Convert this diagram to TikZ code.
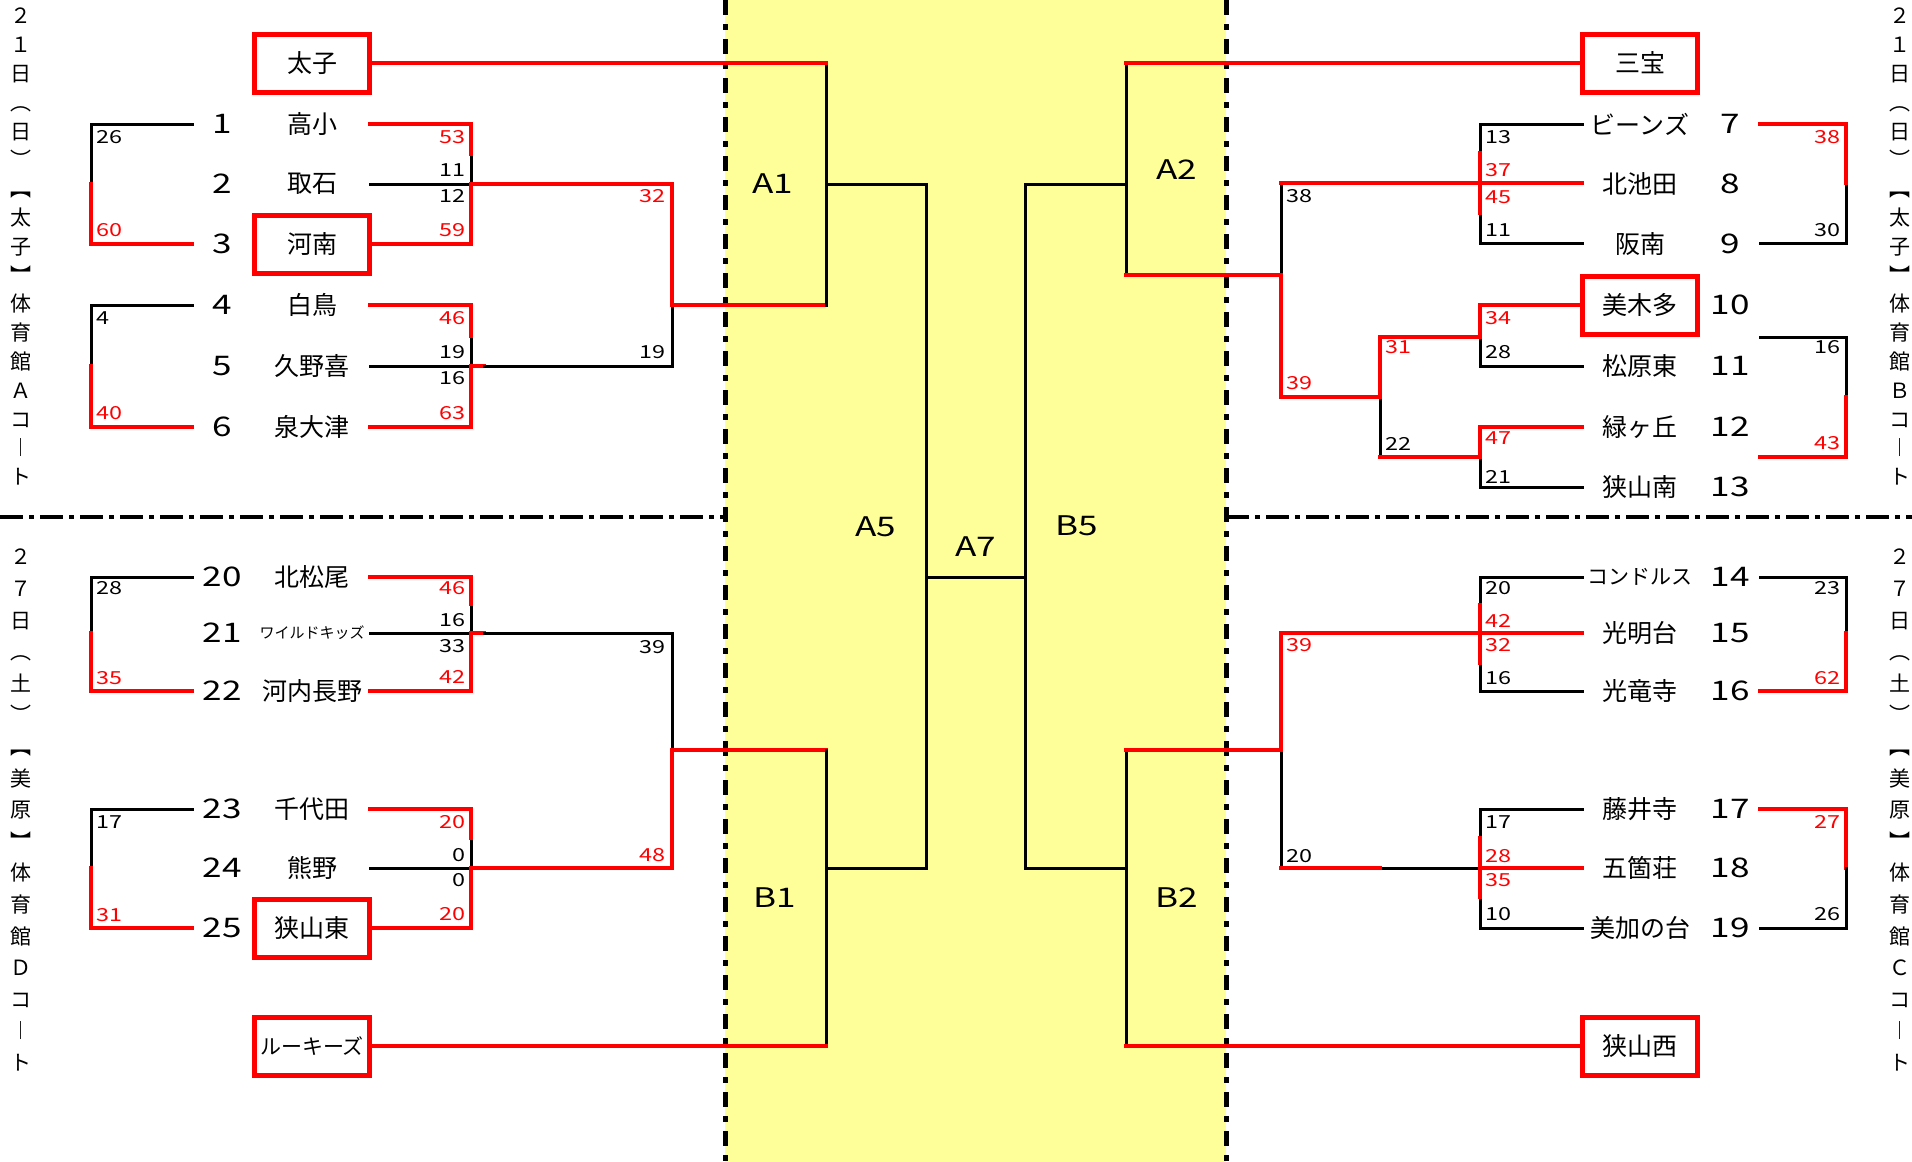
\documentclass[tikz,border=0pt]{standalone}
\usepackage{fontspec}
\setmainfont{Noto Sans CJK JP}
\newfontfamily\widefont[FakeStretch=1.3]{Noto Sans CJK JP}
\definecolor{band}{RGB}{255,255,153}
\begin{document}
\begin{tikzpicture}[x=1pt,y=-1pt,
	bl/.style={line width=3pt,line cap=rect},
	rl/.style={line width=4.5pt,red,line cap=rect},
	dd/.style={line width=4.5pt,dash pattern=on 23pt off 6pt on 5pt off 6pt},
	ddv/.style={line width=5pt,dash pattern=on 15pt off 9pt on 6pt off 9pt},
	team/.style={font=\fontsize{25}{25}\selectfont,inner sep=0pt},
	kana/.style={font=\fontsize{21}{21}\selectfont,inner sep=0pt},
	num/.style={font=\widefont\fontsize{27}{27}\selectfont,inner sep=0pt},
	sc/.style={font=\widefont\fontsize{18}{18}\selectfont,inner sep=0pt},
	lbl/.style={font=\widefont\fontsize{27}{27}\selectfont,inner sep=0pt},
	winbox/.style={draw=red,line width=5pt,minimum width=115pt,minimum height=58pt,inner sep=0pt,font=\fontsize{25}{25}\selectfont},
	vt/.style={align=center,anchor=north,inner sep=0pt}]
	\useasboundingbox (0,0) rectangle (1912,1162);
	\fill[white] (0,0) rectangle (1912,1162);
	\fill[band] (725,0) rectangle (1226,1162);
	\draw[dd] (0,517) -- (725,517);
	\draw[dd] (1226,517) -- (1912,517);
	\draw[ddv] (725,0) -- (725,1162);
	\draw[ddv] (1226,0) -- (1226,1162);

	\foreach \a/\m/\b in {124/184/244, 305/366/427, 577/633/691, 809/868/928}
	{
		\draw[bl] (192,\a) -- (91,\a) -- (91,\m);
		\draw[rl] (91,\m) -- (91,\b) -- (192,\b);
	}
	\foreach \a/\h/\m/\b/\e in {124/154/184/244/672, 305/336/366/427/484, 577/604/633/691/484, 809/838/868/928/672}
	{
		\draw[bl] (471,\h) -- (471,\m) -- (370,\m);
		\draw[rl] (370,\a) -- (471,\a) -- (471,\h);
		\draw[rl] (370,\b) -- (471,\b) -- (471,\m) -- (\e,\m);
	}
	\draw[bl] (484,366) -- (672,366) -- (672,305);
	\draw[bl] (484,633) -- (672,633) -- (672,750);
	\draw[rl] (672,184) -- (672,305) -- (826,305);
	\draw[rl] (672,868) -- (672,750) -- (826,750);

	\draw[bl] (826,63) -- (826,305);
	\draw[bl] (826,184) -- (926,184) -- (926,868) -- (826,868);
	\draw[bl] (826,750) -- (826,1046);
	\draw[bl] (926,577) -- (1025,577);
	\draw[bl] (1126,63) -- (1126,275);
	\draw[bl] (1126,184) -- (1025,184) -- (1025,868) -- (1126,868);
	\draw[bl] (1126,750) -- (1126,1046);

	\draw[bl] (1281,183) -- (1281,275);
	\draw[bl] (1380,397) -- (1380,457);
	\draw[bl] (1480,337) -- (1480,366) -- (1582,366);
	\draw[bl] (1480,457) -- (1480,487) -- (1582,487);
	\draw[bl] (1281,750) -- (1281,868);
	\draw[bl] (1380,868) -- (1480,868);
	\foreach \a/\h/\k/\b in {124/153/213/243, 577/605/663/691, 809/838/897/928}
	{
		\draw[bl] (1582,\a) -- (1480,\a) -- (1480,\h);
		\draw[bl] (1480,\k) -- (1480,\b) -- (1582,\b);
		\draw[rl] (1480,\h) -- (1480,\k);
	}
	\draw[bl] (1846,183) -- (1846,243) -- (1760,243);
	\draw[rl] (1760,124) -- (1846,124) -- (1846,183);
	\draw[bl] (1760,337) -- (1846,337) -- (1846,397);
	\draw[rl] (1846,397) -- (1846,457) -- (1760,457);
	\draw[bl] (1760,577) -- (1846,577) -- (1846,633);
	\draw[rl] (1846,633) -- (1846,691) -- (1760,691);
	\draw[rl] (1760,809) -- (1846,809) -- (1846,868);
	\draw[bl] (1846,868) -- (1846,928) -- (1760,928);

	\draw[rl] (1126,275) -- (1281,275) -- (1281,397) -- (1380,397) -- (1380,337) -- (1480,337) -- (1480,305) -- (1580,305);
	\draw[rl] (1380,457) -- (1480,457) -- (1480,427) -- (1582,427);
	\draw[rl] (1281,183) -- (1582,183);
	\draw[rl] (1126,750) -- (1281,750) -- (1281,633) -- (1582,633);
	\draw[rl] (1480,868) -- (1582,868);
	\draw[rl] (1281,868) -- (1380,868);

	\node[winbox] (taishi) at (312,63) {太子};
	\node[winbox] (t3) at (312,244) {河南};
	\node[winbox] (t25) at (312,928) {狭山東};
	\node[winbox,font=\fontsize{21}{21}\selectfont] (rookies) at (312,1046) {ルーキーズ};
	\node[winbox] (sanpo) at (1640,63) {三宝};
	\node[winbox] (t10) at (1640,305) {美木多};
	\node[winbox] (nishi) at (1640,1046) {狭山西};
	\draw[rl] (taishi.east) -- (826,63);
	\draw[rl] (rookies.east) -- (826,1046);
	\draw[rl] (sanpo.west) -- (1126,63);
	\draw[rl] (nishi.west) -- (1126,1046);

	\foreach \n/\y in {1/124, 2/184, 3/244, 4/305, 5/366, 6/427, 20/577, 21/633, 22/691, 23/809, 24/868, 25/928}
		\node[num] (n\n) at (222,\y) {\n};
	\foreach \n/\y in {7/124, 8/184, 9/244, 10/305, 11/366, 12/427, 13/487, 14/577, 15/633, 16/691, 17/809, 18/868, 19/928}
		\node[num] (n\n) at (1730,\y) {\n};
	\foreach \n/\y/\t in {1/124/高小, 2/184/取石, 4/305/白鳥, 5/366/久野喜, 6/427/泉大津, 20/577/北松尾, 22/691/河内長野, 23/809/千代田, 24/868/熊野}
		\node[team] (t\n) at (312,\y) {\t};
	\node[team,font=\fontsize{15}{15}\selectfont] (t21) at (312,633) {ワイルドキッズ};
	\foreach \n/\y/\t in {7/124/ビーンズ, 8/184/北池田, 9/244/阪南, 11/366/松原東, 12/427/緑ヶ丘, 13/487/狭山南, 15/633/光明台, 16/691/光竜寺, 17/809/藤井寺, 18/868/五箇荘, 19/928/美加の台}
		\node[team] (t\n) at (1640,\y) {\t};
	\node[kana] (t14) at (1640,577) {コンドルス};

	\foreach \x/\y/\s [count=\k] in {96/137/26, 96/318/4, 96/588/28, 96/822/17, 1485/137/13, 1485/230/11, 1485/352/28, 1485/477/21, 1485/588/20, 1485/678/16, 1485/822/17, 1485/914/10, 1286/196/38, 1286/856/20, 1385/444/22}
		\node[sc,anchor=west] (sa\k) at (\x,\y) {\s};
	\foreach \x/\y/\s [count=\k] in {96/230/60, 96/413/40, 96/678/35, 96/915/31, 1485/170/37, 1485/197/45, 1485/318/34, 1485/438/47, 1485/621/42, 1485/645/32, 1485/856/28, 1485/880/35, 1286/383/39, 1385/347/31, 1286/645/39}
		\node[sc,anchor=west,red] (sb\k) at (\x,\y) {\s};
	\foreach \x/\y/\s [count=\k] in {466/170/11, 466/196/12, 466/352/19, 466/378/16, 466/620/16, 466/646/33, 466/855/0, 466/880/0, 666/352/19, 666/647/39, 1841/230/30, 1841/347/16, 1841/588/23, 1841/914/26}
		\node[sc,anchor=east] (sc\k) at (\x,\y) {\s};
	\foreach \x/\y/\s [count=\k] in {466/137/53, 466/230/59, 466/318/46, 466/413/63, 466/588/46, 466/677/42, 466/822/20, 466/914/20, 666/196/32, 666/855/48, 1841/137/38, 1841/443/43, 1841/678/62, 1841/822/27}
		\node[sc,anchor=east,red] (sd\k) at (\x,\y) {\s};

	\node[lbl] (A1) at (773,184) {A1};
	\node[lbl] (A2) at (1177,170) {A2};
	\node[lbl] (A5) at (876,527) {A5};
	\node[lbl] (A7) at (976,547) {A7};
	\node[lbl] (B5) at (1077,526) {B5};
	\node[lbl] (B1) at (775,898) {B1};
	\node[lbl] (B2) at (1177,898) {B2};

	\node[vt,font=\fontsize{21}{28.8}\selectfont] (courtA) at (21,8) {２\\１\\日\\︵\\日\\︶\\︻\\太\\子\\︼\\体\\育\\館\\Ａ\\コ\\︱\\ト};
	\node[vt,font=\fontsize{21}{31.6}\selectfont] (courtD) at (21,549) {２\\７\\日\\︵\\土\\︶\\︻\\美\\原\\︼\\体\\育\\館\\Ｄ\\コ\\︱\\ト};
	\node[vt,font=\fontsize{21}{28.8}\selectfont] (courtB) at (1900,8) {２\\１\\日\\︵\\日\\︶\\︻\\太\\子\\︼\\体\\育\\館\\Ｂ\\コ\\︱\\ト};
	\node[vt,font=\fontsize{21}{31.6}\selectfont] (courtC) at (1900,549) {２\\７\\日\\︵\\土\\︶\\︻\\美\\原\\︼\\体\\育\\館\\Ｃ\\コ\\︱\\ト};
\end{tikzpicture}
\end{document}
